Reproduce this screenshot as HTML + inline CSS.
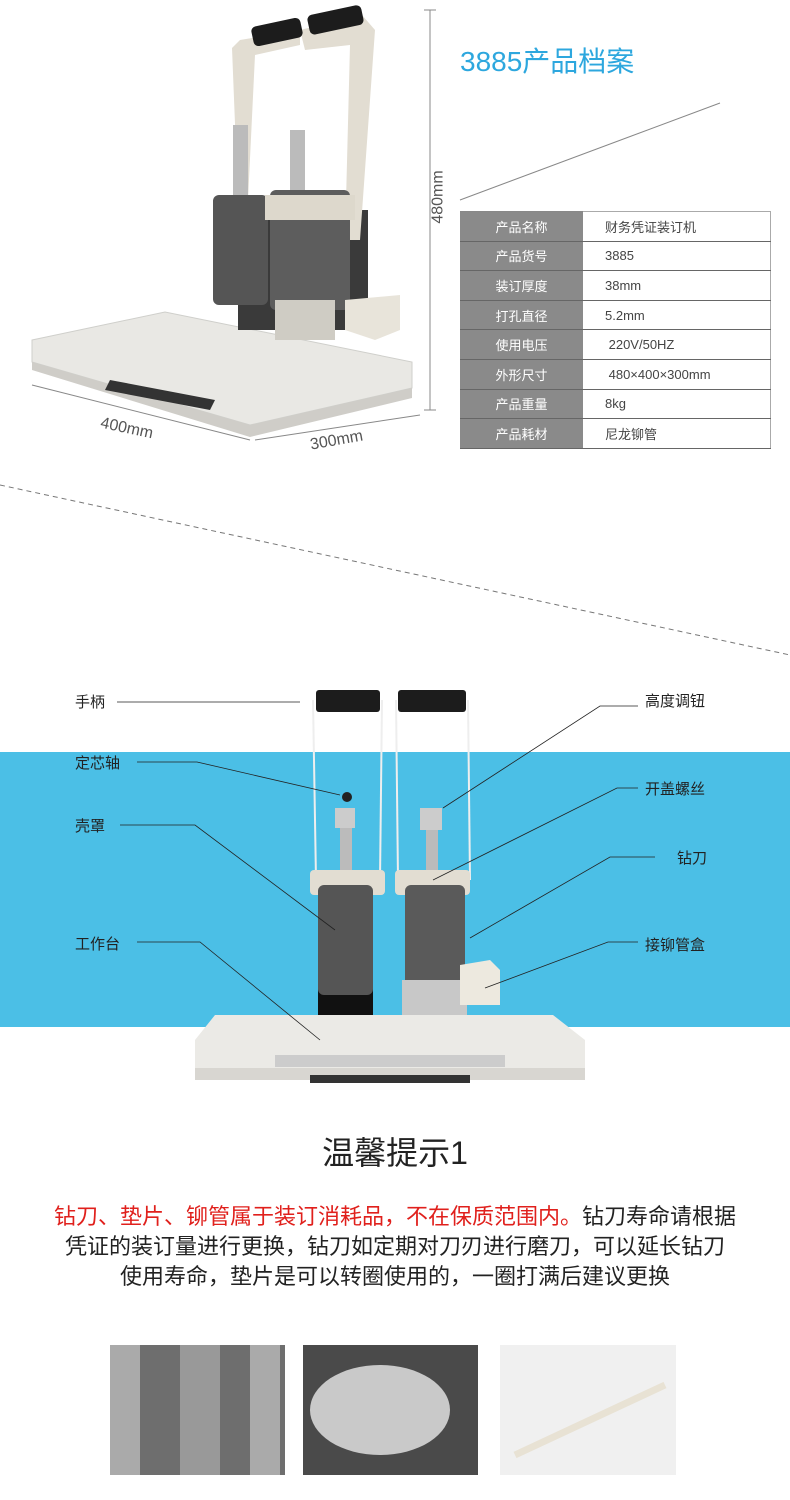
<!DOCTYPE html>
<html><head><meta charset="utf-8"><style>
body{margin:0;width:790px;height:1500px;background:#fff;position:relative;overflow:hidden;font-family:"Liberation Sans","Noto Sans CJK SC",sans-serif}
.a{position:absolute}
table{border-collapse:collapse;position:absolute;left:460px;top:211px;width:311px;font-size:13px}
td{height:28.6px;border-bottom:1px solid #666;padding:0}
td.l{background:#8a8a8a;color:#fff;width:123px;text-align:center}
td.r{color:#444;padding-left:22px;border-right:1px solid #aaa}
.lab{position:absolute;font-size:15px;color:#222}
</style></head><body>
<svg class="a" style="left:0;top:0" width="790" height="1500">
<polygon points="32,340 165,312 412,362 412,388 250,425 32,362" fill="#e9e8e4" stroke="#cfcfcb"/>
<polygon points="32,362 250,425 412,388 412,398 250,437 32,370" fill="#cfcdc8"/>
<polygon points="110,380 215,400 210,410 105,390" fill="#333"/>
<rect x="238" y="210" width="130" height="120" fill="#3a3a3a"/>
<path d="M232 48 L240 40 L300 30 L300 45 L255 55 L248 200 L238 200Z" fill="#e2ddd2"/>
<path d="M300 30 L362 15 L375 30 L360 240 L345 240 L350 45 L305 50Z" fill="#e2ddd2"/>
<rect x="252" y="22" width="50" height="20" rx="5" fill="#1c1c1c" transform="rotate(-12 277 32)"/>
<rect x="308" y="10" width="55" height="20" rx="5" fill="#1c1c1c" transform="rotate(-12 335 20)"/>
<rect x="233" y="125" width="15" height="70" fill="#bbb"/>
<rect x="290" y="130" width="15" height="70" fill="#bbb"/>
<rect x="213" y="195" width="55" height="110" rx="6" fill="#555"/>
<rect x="270" y="190" width="80" height="120" rx="6" fill="#5d5d5d"/>
<rect x="265" y="195" width="90" height="25" fill="#ddd8cc"/>
<rect x="275" y="300" width="60" height="40" fill="#cfccc4"/>
<polygon points="345,300 400,295 400,330 375,340 345,330" fill="#e8e4da"/>
<line x1="430" y1="10" x2="430" y2="410" stroke="#888"/>
<line x1="424" y1="10" x2="436" y2="10" stroke="#888"/><line x1="424" y1="410" x2="436" y2="410" stroke="#888"/>
<line x1="32" y1="385" x2="250" y2="440" stroke="#888"/><line x1="255" y1="440" x2="420" y2="415" stroke="#888"/>
<line x1="460" y1="200" x2="720" y2="103" stroke="#888"/>
<line x1="0" y1="485" x2="790" y2="655" stroke="#777" stroke-dasharray="5,4"/>
<rect x="0" y="752" width="790" height="275" fill="#4bbfe6"/>
<polygon points="215,1015 553,1015 585,1040 585,1070 195,1070 195,1040" fill="#ebeae6"/>
<rect x="195" y="1068" width="390" height="12" fill="#d8d6d1"/>
<rect x="310" y="1075" width="160" height="8" fill="#333"/>
<rect x="275" y="1055" width="230" height="12" fill="#ccc"/>
<rect x="316" y="690" width="64" height="22" rx="3" fill="#1c1c1c"/>
<rect x="398" y="690" width="68" height="22" rx="3" fill="#1c1c1c"/>
<line x1="313" y1="700" x2="316" y2="880" stroke="#eee" stroke-width="2"/><line x1="382" y1="700" x2="380" y2="880" stroke="#eee" stroke-width="2"/>
<line x1="396" y1="700" x2="398" y2="880" stroke="#eee" stroke-width="2"/><line x1="468" y1="700" x2="470" y2="880" stroke="#eee" stroke-width="2"/>
<rect x="335" y="808" width="20" height="20" fill="#ccc"/><rect x="340" y="828" width="12" height="60" fill="#bbb"/>
<rect x="420" y="808" width="22" height="22" fill="#ccc"/><rect x="426" y="830" width="12" height="60" fill="#bbb"/>
<circle cx="347" cy="797" r="5" fill="#222"/>
<rect x="318" y="965" width="55" height="50" fill="#111"/>
<rect x="310" y="870" width="75" height="25" rx="4" fill="#e2ddd2"/>
<rect x="395" y="870" width="75" height="25" rx="4" fill="#e2ddd2"/>
<rect x="318" y="885" width="55" height="110" rx="6" fill="#555"/>
<rect x="405" y="885" width="60" height="110" rx="6" fill="#5a5a5a"/>
<rect x="402" y="980" width="65" height="35" fill="#c8c8c8"/>
<polygon points="460,965 490,960 500,970 500,1005 460,1005" fill="#ede9df"/>
<g stroke="#222" fill="none" stroke-width="0.8">
<polyline points="117,702 300,702"/>
<polyline points="137,762 197,762 340,795"/>
<polyline points="120,825 195,825 335,930"/>
<polyline points="137,942 200,942 320,1040"/>
<polyline points="638,706 600,706 443,808"/>
<polyline points="638,788 617,788 433,880"/>
<polyline points="655,857 610,857 470,938"/>
<polyline points="638,942 608,942 485,988"/>
</g>
<rect x="110" y="1345" width="175" height="130" fill="#6e6e6e"/>
<rect x="180" y="1345" width="40" height="130" fill="#999"/>
<rect x="110" y="1345" width="30" height="130" fill="#aaa"/><rect x="250" y="1345" width="30" height="130" fill="#aaa"/>
<rect x="303" y="1345" width="175" height="130" fill="#4a4a4a"/>
<ellipse cx="380" cy="1410" rx="70" ry="45" fill="#c9c9c9"/>
<rect x="500" y="1345" width="176" height="130" fill="#f0f0f0"/>
<line x1="515" y1="1455" x2="665" y2="1385" stroke="#e8e2d4" stroke-width="7"/>
</svg>
<div class="a" style="left:460px;top:40px;font-size:28px;color:#2da7de">3885产品档案</div>
<div class="a" style="left:412px;top:188px;font-size:16px;color:#555;transform:rotate(-90deg)">480mm</div>
<div class="a" style="left:100px;top:420px;font-size:16px;color:#555;transform:rotate(12deg)">400mm</div>
<div class="a" style="left:310px;top:432px;font-size:16px;color:#555;transform:rotate(-10deg)">300mm</div>
<table>
<tr><td class="l" style="border-top:1px solid #888">产品名称</td><td class="r" style="border-top:1px solid #aaa">财务凭证装订机</td></tr>
<tr><td class="l">产品货号</td><td class="r">3885</td></tr>
<tr><td class="l">装订厚度</td><td class="r">38mm</td></tr>
<tr><td class="l">打孔直径</td><td class="r">5.2mm</td></tr>
<tr><td class="l">使用电压</td><td class="r">&nbsp;220V/50HZ</td></tr>
<tr><td class="l">外形尺寸</td><td class="r">&nbsp;480×400×300mm</td></tr>
<tr><td class="l">产品重量</td><td class="r">8kg</td></tr>
<tr><td class="l">产品耗材</td><td class="r">尼龙铆管</td></tr>
</table>
<div class="lab" style="left:75px;top:691px">手柄</div>
<div class="lab" style="left:75px;top:752px">定芯轴</div>
<div class="lab" style="left:75px;top:815px">壳罩</div>
<div class="lab" style="left:75px;top:933px">工作台</div>
<div class="lab" style="left:645px;top:690px">高度调钮</div>
<div class="lab" style="left:645px;top:778px">开盖螺丝</div>
<div class="lab" style="left:677px;top:847px">钻刀</div>
<div class="lab" style="left:645px;top:934px">接铆管盒</div>
<div class="a" style="left:0;width:790px;top:1128px;text-align:center;font-size:32px;color:#222">温馨提示1</div>
<div class="a" style="left:0;width:790px;top:1202px;text-align:center;font-size:22px;line-height:30px;color:#222"><span style="color:#e0201c">钻刀、垫片、铆管属于装订消耗品，不在保质范围内。</span>钻刀寿命请根据<br>凭证的装订量进行更换，钻刀如定期对刀刃进行磨刀，可以延长钻刀<br>使用寿命，垫片是可以转圈使用的，一圈打满后建议更换</div>
</body></html>
